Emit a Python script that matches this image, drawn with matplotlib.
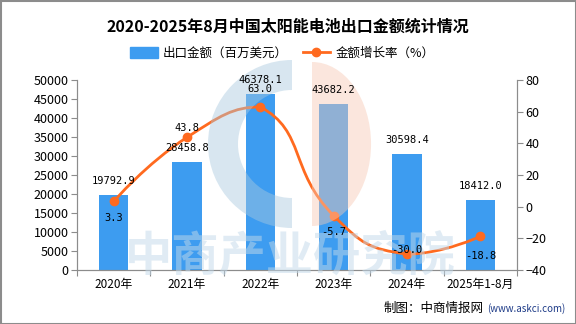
"""2020-2025年8月中国太阳能电池出口金额统计情况 chart."""

import numpy as np
import matplotlib.pyplot as plt
from matplotlib.path import Path
from matplotlib.patches import PathPatch, Wedge, Rectangle
from matplotlib.lines import Line2D
from matplotlib.transforms import Affine2D

plt.rcParams["font.family"] = ["Noto Sans CJK SC", "DejaVu Sans"]

years = ["2020年", "2021年", "2022年", "2023年", "2024年", "2025年1-8月"]
export_value = [19792.9, 28458.8, 46378.1, 43682.2, 30598.4, 18412.0]
growth_rate = [3.3, 43.8, 63.0, -5.7, -30.0, -18.8]
value_labels = ["19792.9", "28458.8", "46378.1", "43682.2", "30598.4", "18412.0"]
rate_labels = ["3.3", "43.8", "63.0", "-5.7", "-30.0", "-18.8"]

BAR_COLOR = "#3d9cf0"
LINE_COLOR = "#ff6a1f"
AXIS_COLOR = "#8c8c8c"
MONO = ["DejaVu Sans Mono", "Noto Sans CJK SC"]

# vertical offsets (points) for the growth labels
rate_offsets = [-12, 7, 13, -12, 3, -14]


def smooth_path(x, y, sx=73.0, sy=1.575, smooth=0.5):
    """Cubic bezier path through the points, ECharts-style smoothing.

    Control points are built in pixel-like space (sx, sy scale) and
    clamped to the data range so the curve does not overshoot.
    """
    n = len(x)
    px = np.asarray(x) * sx
    py = np.asarray(y) * sy
    lo, hi = py.min(), py.max()
    cp_prev = [(px[0], py[0])]
    cp_next = [(px[0], py[0])]
    for i in range(1, n - 1):
        vx, vy = px[i + 1] - px[i - 1], py[i + 1] - py[i - 1]
        d0 = np.hypot(px[i] - px[i - 1], py[i] - py[i - 1])
        d1 = np.hypot(px[i + 1] - px[i], py[i + 1] - py[i])
        r = d0 / (d0 + d1)
        cp_prev.append((px[i] - vx * smooth * r,
                        np.clip(py[i] - vy * smooth * r, lo, hi)))
        cp_next.append((px[i] + vx * smooth * (1 - r),
                        np.clip(py[i] + vy * smooth * (1 - r), lo, hi)))
    cp_prev.append((px[-1], py[-1]))
    verts = [(px[0] / sx, py[0] / sy)]
    codes = [Path.MOVETO]
    for i in range(n - 1):
        c1 = cp_next[i]
        c2 = cp_prev[i + 1]
        verts += [(c1[0] / sx, c1[1] / sy), (c2[0] / sx, c2[1] / sy),
                  (px[i + 1] / sx, py[i + 1] / sy)]
        codes += [Path.CURVE4] * 3
    return Path(verts, codes)


def main():
    fig = plt.figure(figsize=(5.76, 3.24), dpi=100)
    ax = fig.add_axes([0.1337, 0.1667, 0.7639, 0.5863])
    ax2 = ax.twinx()

    x = np.arange(len(years))
    ax.bar(x, export_value, width=0.4, color=BAR_COLOR, zorder=2)

    ax.set_xlim(-0.5, len(years) - 0.5)
    ax.set_ylim(0, 50000)
    ax.set_yticks(np.arange(0, 50001, 5000))
    ax.set_xticks(np.arange(-0.5, len(years), 1.0))
    ax.set_xticklabels([])
    ax.set_xticks(x, minor=True)
    ax.set_xticklabels(years, minor=True)
    ax.tick_params(axis="x", which="minor", length=0, pad=6, labelsize=8.5)
    ax.tick_params(axis="x", which="major", length=4, color=AXIS_COLOR)
    ax.tick_params(axis="y", length=4, color=AXIS_COLOR, labelsize=9, pad=2)

    ax2.set_ylim(-40, 80)
    ax2.set_yticks(np.arange(-40, 81, 20))
    ax2.tick_params(axis="y", length=4, color=AXIS_COLOR, labelsize=9, pad=2)

    for a in (ax, ax2):
        a.spines["top"].set_visible(False)
        for s in ("left", "right", "bottom"):
            a.spines[s].set_color(AXIS_COLOR)

    path = smooth_path(x.astype(float), np.array(growth_rate))
    ax2.add_patch(PathPatch(path, facecolor="none", edgecolor=LINE_COLOR,
                            lw=2.0, zorder=3))
    ax2.plot(x, growth_rate, "o", color=LINE_COLOR, ms=6, zorder=4)

    # watermark in figure pixels (top-left origin), above the marks
    pix = (Affine2D().scale(1 / 100.0, -1 / 100.0).translate(0, 3.24)
           + fig.dpi_scale_trans)
    ax2.add_patch(Wedge((292, 144), 84, 90, 270, width=30,
                        facecolor="#a9c9df", alpha=0.45, lw=0,
                        transform=pix, clip_on=False, zorder=4.5))
    ax2.add_patch(Wedge((0, 0), 82, -90, 90, facecolor="#f7c9b4", alpha=0.45,
                        lw=0, clip_on=False, zorder=4.5,
                        transform=Affine2D().scale(0.72, 1)
                        .translate(312, 144) + pix))
    ax2.text(290, 256, "中商产业研究院", ha="center", va="center",
             fontsize=34, fontweight="bold", color="#c2d9ea", alpha=0.5,
             transform=pix, clip_on=False, zorder=4.5)

    # data labels on top of the watermark
    trans_bar = ax.transData
    for xi, v, lab in zip(x, export_value, value_labels):
        ax2.annotate(lab, (xi, v), xycoords=trans_bar, xytext=(0, 10),
                     textcoords="offset points", ha="center", va="center",
                     fontsize=7.5, family=MONO, zorder=6)
    for xi, v, lab, off in zip(x, growth_rate, rate_labels, rate_offsets):
        ax2.annotate(lab, (xi, v), xytext=(0, off), textcoords="offset points",
                     ha="center", va="center", fontsize=7.5, family=MONO,
                     zorder=6)

    # border
    fig.add_artist(Rectangle((0.5, 0.5), 575, 323, facecolor="none",
                             edgecolor="#8c8c8c", lw=1.5, transform=pix))

    fig.text(0.5, 0.917, "2020-2025年8月中国太阳能电池出口金额统计情况",
             ha="center", va="center", fontsize=11.5, fontweight="bold")

    handles = [Rectangle((0, 0), 1, 1, color=BAR_COLOR),
               Line2D([0], [0], color=LINE_COLOR, lw=2, marker="o", ms=6)]
    fig.legend(handles, ["出口金额（百万美元）", "金额增长率（%）"],
               loc="center", bbox_to_anchor=(0.49, 0.836), ncol=2,
               frameon=False, fontsize=9, handlelength=2.2,
               handleheight=0.9, columnspacing=1.2, handletextpad=0.4)

    fig.text(0.981, 0.048, "(www.askci.com)", ha="right", va="center",
             fontsize=7, color="#1f3c88")
    fig.text(0.839, 0.048, "制图：中商情报网", ha="right", va="center",
             fontsize=9)

    fig.savefig("out.png", dpi=100)


if __name__ == "__main__":
    main()
